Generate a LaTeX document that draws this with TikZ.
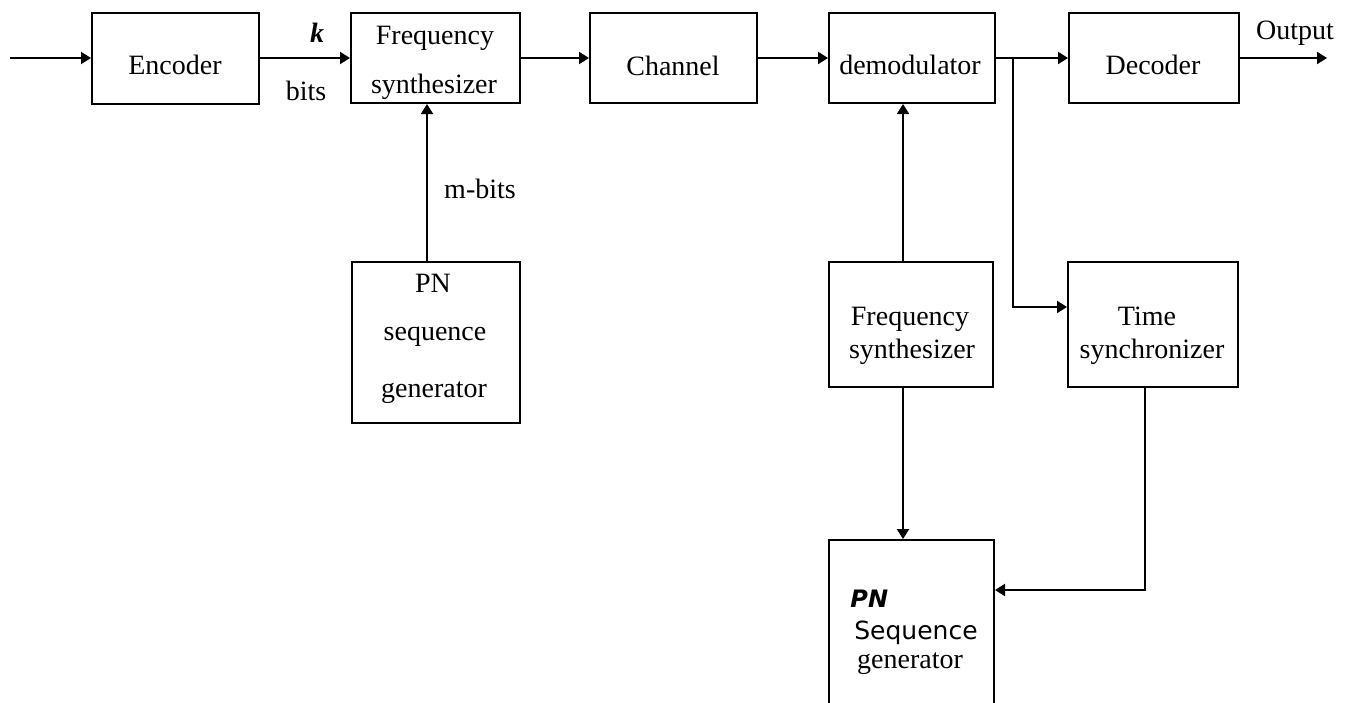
\documentclass[tikz,border=0pt]{standalone}
\usepackage{fontspec}
\setmainfont{Liberation Serif}
\newfontfamily\handfont{DejaVu Sans}
\usetikzlibrary{arrows.meta}

\begin{document}
\begin{tikzpicture}[x=0.5pt,y=-0.5pt,
  blk/.style={draw,line width=1pt,rectangle,inner sep=0pt},
  txt/.style={anchor=base,inner sep=0pt,font=\fontsize{14}{16}\selectfont},
  wire/.style={line width=1pt},
  conn/.style={line width=1pt,-{Triangle[length=5pt,width=6pt]}}]

\useasboundingbox (0,0) rectangle (1347,702);
\clip (0,0) rectangle (1347,702);

% transmitter and receiver chain
\node[blk,minimum width=83.5pt,minimum height=45.5pt] (enc) at (175.5,58) {};
\node[blk,minimum width=84.5pt,minimum height=45pt]   (fs1) at (435.5,58) {};
\node[blk,minimum width=83.5pt,minimum height=45pt]   (ch)  at (673.5,58) {};
\node[blk,minimum width=83pt,minimum height=45pt]     (dem) at (912,58)   {};
\node[blk,minimum width=85pt,minimum height=45pt]     (dec) at (1154,58)  {};

% lower blocks
\node[blk,minimum width=84pt,minimum height=80.5pt]   (pn1) at (436,342.5) {};
\node[blk,minimum width=82pt,minimum height=62.5pt]   (fs2) at (911,324.5) {};
\node[blk,minimum width=85pt,minimum height=62.5pt]   (ts)  at (1153,324.5) {};
\node[blk,minimum width=82.5pt,minimum height=90pt]   (pn2) at (911.5,630) {};

% block texts
\node[txt] (encT)  at (175,74)  {Encoder};
\node[txt] (fs1T1) at (435,44)  {Frequency};
\node[txt] (fs1T2) at (434,93)  {synthesizer};
\node[txt] (chT)   at (673,75)  {Channel};
\node[txt] (demT)  at (910,74)  {demodulator};
\node[txt] (decT)  at (1153,74) {Decoder};
\node[txt] (pn1T1) at (433,292) {PN};
\node[txt] (pn1T2) at (435,340) {sequence};
\node[txt] (pn1T3) at (434,397) {generator};
\node[txt] (fs2T1) at (910,325) {Frequency};
\node[txt] (fs2T2) at (912,358) {synthesizer};
\node[txt] (tsT1)  at (1147,325) {Time};
\node[txt] (tsT2)  at (1152,358) {synchronizer};
\node[txt,anchor=base west,font=\handfont\bfseries\itshape\fontsize{12}{14}\selectfont] (pn2T1) at (850,607) {PN};
\node[txt,font=\handfont\fontsize{12.5}{14}\selectfont] (pn2T2) at (916,639) {Sequence};
\node[txt] (pn2T3) at (910,668) {generator};

% signal labels
\node[txt] (kT)    at (317,42)  {\bfseries\itshape k};
\node[txt] (bitsT) at (306,100) {bits};
\node[txt] (mT)    at (480,198) {m-bits};
\node[txt] (outT)  at (1295,39) {Output};

% connection points
\coordinate (src)  at (10,58);
\coordinate (sink) at (1327,58);
\coordinate (br)   at (1013,58);
\coordinate (bend) at (1013,307);
\coordinate (mx)   at (427,200);
\coordinate (fx)   at (903,200);
\coordinate (tx)   at (1145,590);

% main chain
\draw[conn] (src) -- (enc);
\draw[conn] (enc) -- (fs1);
\draw[conn] (fs1) -- (ch);
\draw[conn] (ch) -- (dem);
\draw[wire] (dem) -- (br);
\draw[conn] (br) -- (dec);
\draw[conn] (dec) -- (sink);

% feedback and control paths
\draw[conn] (pn1.north -| mx) -- (fs1.south -| mx);
\draw[conn] (fs2.north -| fx) -- (dem.south -| fx);
\draw[conn] (fs2.south -| fx) -- (pn2.north -| fx);
\draw[conn] (br) -- (bend) -- (bend -| ts.west);
\draw[conn] (ts.south -| tx) -- (tx) -- (tx -| pn2.east);

\end{tikzpicture}
\end{document}
